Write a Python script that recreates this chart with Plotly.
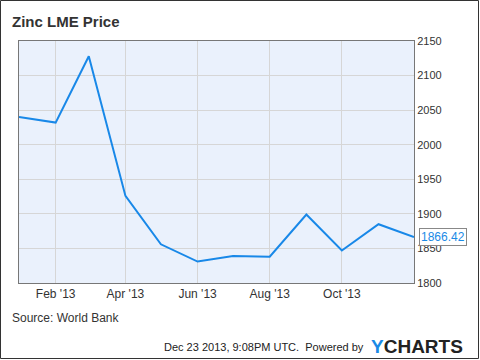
import plotly.graph_objects as go

dates = ["2013-01-01", "2013-02-01", "2013-03-01", "2013-04-01", "2013-05-01", "2013-06-01",
         "2013-07-01", "2013-08-01", "2013-09-01", "2013-10-01", "2013-11-01", "2013-12-01"]
prices = [2040, 2032, 2128, 1926, 1856, 1831, 1839, 1838, 1899, 1847, 1885, 1866.42]
xtick_vals = ["2013-02-01", "2013-04-01", "2013-06-01", "2013-08-01", "2013-10-01"]
xtick_text = ["Feb '13", "Apr '13", "Jun '13", "Aug '13", "Oct '13"]
ytick_vals = [1800, 1850, 1900, 1950, 2000, 2050, 2100, 2150]

W, H = 480, 360
L, R, T, B = 19, 66, 41, 77
pw, ph = W - L - R, H - T - B

def px(x):
    return (x - L) / pw

def py(y):
    return (H - B - y) / ph

FONT = "Liberation Sans, Arial, sans-serif"
fig = go.Figure()
fig.add_trace(go.Scatter(x=dates, y=prices, mode="lines",
                         line=dict(color="#1888e8", width=2), hoverinfo="skip"))

fig.update_layout(
    width=W, height=H, margin=dict(l=L, r=R, t=T, b=B),
    paper_bgcolor="white", plot_bgcolor="#eaf1fc", showlegend=False,
    font=dict(family=FONT, size=12, color="#333333"),
    xaxis=dict(type="date", range=["2013-01-01", "2013-12-01"], tickvals=xtick_vals,
               ticktext=xtick_text, showgrid=True, gridcolor="#d6d6d6", gridwidth=1,
               showline=True, linecolor="#777777", linewidth=1, mirror=True,
               ticks="", zeroline=False, tickfont=dict(size=12, color="#333333")),
    yaxis=dict(range=[1800, 2150], tickvals=ytick_vals, side="right",
               showgrid=True, gridcolor="#d6d6d6", gridwidth=1,
               showline=True, linecolor="#777777", linewidth=1, mirror=True,
               ticks="", zeroline=False, tickfont=dict(size=11, color="#333333")),
    annotations=[
        dict(text="<b>Zinc LME Price</b>", x=px(10), y=py(21), xref="paper", yref="paper",
             xanchor="left", yanchor="middle", showarrow=False,
             font=dict(size=15, color="#333333", family=FONT)),
        dict(text="Source: World Bank", x=px(10), y=py(318), xref="paper", yref="paper",
             xanchor="left", yanchor="middle", showarrow=False,
             font=dict(size=12, color="#333333", family=FONT)),
        dict(text="Dec 23 2013, 9:08PM UTC.  Powered by", x=px(366), y=py(347), xref="paper", yref="paper",
             xanchor="right", yanchor="middle", showarrow=False,
             font=dict(size=11, color="#222222", family=FONT)),
        dict(text="<b><span style='color:#1a8ae6'>Y</span>CHARTS</b>", x=px(369), y=py(346), xref="paper", yref="paper",
             xanchor="left", yanchor="middle", showarrow=False,
             font=dict(size=19, color="#222222", family=FONT)),
        dict(text="1866.42", x=dates[-1], y=prices[-1], xref="x", yref="y",
             xanchor="left", yanchor="middle", showarrow=False, xshift=5,
             bgcolor="white", bordercolor="#888888", borderwidth=1, borderpad=1,
             font=dict(size=12, color="#1a8ae6", family=FONT)),
    ],
    shapes=[
        dict(type="rect", xref="paper", yref="paper", x0=px(0.5), x1=px(W - 1.5),
             y0=py(H - 1.5), y1=py(0.5), line=dict(color="#333333", width=1)),
    ],
)

fig.write_html("out.html", config={"displayModeBar": False},
               post_script="document.body.style.margin='0';document.body.style.overflow='hidden';")
